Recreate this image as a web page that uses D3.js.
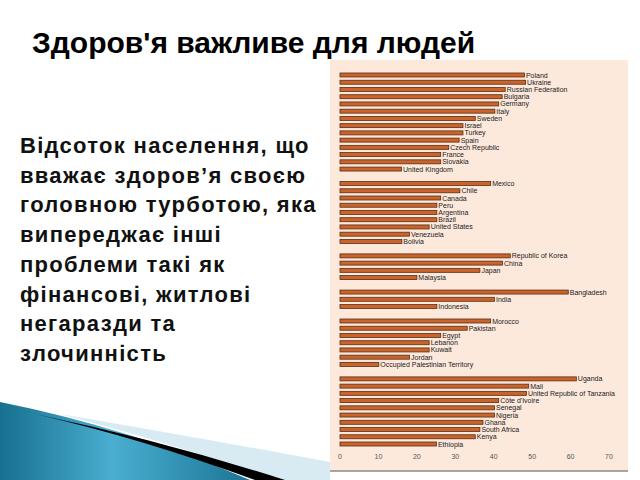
<!DOCTYPE html>
<html>
<head>
<meta charset="utf-8">
<script src="https://cdn.jsdelivr.net/npm/d3@7"></script>
<style>
  body { margin: 0; background: #fff; }
  svg { display: block; }
  .title { font-family: "Liberation Sans", Arial, sans-serif; font-weight: bold; font-size: 30px; fill: #000; }
  .body { font-family: "Liberation Sans", Arial, sans-serif; font-weight: bold; font-size: 22px; letter-spacing: 1.3px; fill: #111; }
  .lbl { font-family: "Liberation Sans Narrow", "Liberation Sans", Arial, sans-serif; font-size: 7px; fill: #222; }
  .tick { font-family: "Liberation Sans", Arial, sans-serif; font-size: 7px; fill: #555; }
</style>
</head>
<body>
<svg width="640" height="480"></svg>
<script>
// title + side text
let title = "Здоров'я важливе для людей";
let bodyLines = [
  "Відсоток населення, що",
  "вважає здоров’я своєю",
  "головною турботою, яка",
  "випереджає інші",
  "проблеми такі як",
  "фінансові, житлові",
  "негаразди та",
  "злочинність"
];

// groups of countries, % who name health as top concern
let europe = ["Poland", "Ukraine", "Russian Federation", "Bulgaria", "Germany", "Italy", "Sweden", "Israel", "Turkey", "Spain", "Czech Republic", "France", "Slovakia", "United Kingdom"];
let europeVals = [48, 48.3, 43, 42.2, 41.3, 40.3, 35.2, 32, 32, 31, 28.3, 26.2, 26.2, 16];

let americas = ["Mexico", "Chile", "Canada", "Peru", "Argentina", "Brazil", "United States", "Venezuela", "Bolivia"];
let americasVals = [39.2, 31.2, 26.2, 25.2, 25.2, 25.2, 23.2, 18.1, 16.1];

let eastAsia = ["Republic of Korea", "China", "Japan", "Malaysia"];
let eastAsiaVals = [44.3, 42.3, 36.4, 20];

let southAsia = ["Bangladesh", "India", "Indonesia"];
let southAsiaVals = [59.4, 40.2, 25.2];

let middleEast = ["Morocco", "Pakistan", "Egypt", "Lebanon", "Kuwait", "Jordan", "Occupied Palestinian Territory"];
let middleEastVals = [39.2, 33.1, 26.2, 23.2, 23.2, 18.1, 10.1];

let africa = ["Uganda", "Mali", "United Republic of Tanzania", "Côte d'Ivoire", "Senegal", "Nigeria", "Ghana", "South Africa", "Kenya", "Ethiopia"];
let africaVals = [61.5, 49.1, 48.5, 41.3, 40.2, 40.2, 37.2, 36.4, 35.2, 25.1];

let xTicks = [0, 10, 20, 30, 40, 50, 60, 70];

// build rows with a blank row between groups
let groups = [
  [europe, europeVals],
  [americas, americasVals],
  [eastAsia, eastAsiaVals],
  [southAsia, southAsiaVals],
  [middleEast, middleEastVals],
  [africa, africaVals]
];
let rows = [];
let keys = [];
groups.forEach(function (g, gi) {
  if (gi > 0) keys.push("gap" + gi);
  g[0].forEach(function (name, i) {
    rows.push({ name: name, value: g[1][i] });
    keys.push(name);
  });
});

let svg = d3.select("svg");

// decoration bottom-left
let defs = svg.append("defs");
let grad = defs.append("linearGradient").attr("id", "teal")
  .attr("x1", "0").attr("y1", "0").attr("x2", "1").attr("y2", "0");
grad.append("stop").attr("offset", "0%").attr("stop-color", "#17708f");
grad.append("stop").attr("offset", "45%").attr("stop-color", "#4aaed0");
grad.append("stop").attr("offset", "100%").attr("stop-color", "#1b7595");

svg.append("path")
  .attr("d", "M60,414 Q200,438 330,462 L330,480 L280,480 Q160,440 60,414 Z")
  .attr("fill", "#d8ebf3");
svg.append("path")
  .attr("d", "M0,402 Q130,428 250,480 L0,480 Z")
  .attr("fill", "url(#teal)");
svg.append("path")
  .attr("d", "M35,414 Q160,440 285,480 L255,480 Q140,438 35,414 Z")
  .attr("fill", "#000");

// title and text
svg.append("text").attr("class", "title").attr("x", 32).attr("y", 53).text(title);

svg.append("g").selectAll("text")
  .data(bodyLines)
  .enter()
  .append("text")
  .attr("class", "body")
  .attr("x", 20)
  .attr("y", function (d, i) { return 153 + i * 29.7; })
  .text(function (d) { return d; });

// chart panel
svg.append("rect")
  .attr("x", 330).attr("y", 60).attr("width", 298).attr("height", 411)
  .attr("fill", "#fde8dc");
svg.append("line")
  .attr("x1", 330).attr("x2", 628).attr("y1", 471).attr("y2", 471)
  .attr("stroke", "#8a8a8a").attr("stroke-width", 1.5);

let x = d3.scaleLinear().domain([0, 70]).range([340, 609]);
let y = d3.scalePoint().domain(keys).range([75, 444]);

let chart = svg.append("g");

chart.selectAll("rect.bar")
  .data(rows)
  .enter()
  .append("rect")
  .attr("class", "bar")
  .attr("x", x(0))
  .attr("y", function (d) { return y(d.name) - 2; })
  .attr("width", function (d) { return x(d.value) - x(0); })
  .attr("height", 4)
  .attr("fill", "#c8642c")
  .attr("stroke", "#5a2e14")
  .attr("stroke-width", 0.8);

chart.selectAll("text.lbl")
  .data(rows)
  .enter()
  .append("text")
  .attr("class", "lbl")
  .attr("x", function (d) { return x(d.value) + 1.5; })
  .attr("y", function (d) { return y(d.name) + 2.5; })
  .text(function (d) { return d.name; });

chart.selectAll("text.tick")
  .data(xTicks)
  .enter()
  .append("text")
  .attr("class", "tick")
  .attr("text-anchor", "middle")
  .attr("x", function (d) { return x(d); })
  .attr("y", 459)
  .text(function (d) { return d; });
</script>
</body>
</html>
